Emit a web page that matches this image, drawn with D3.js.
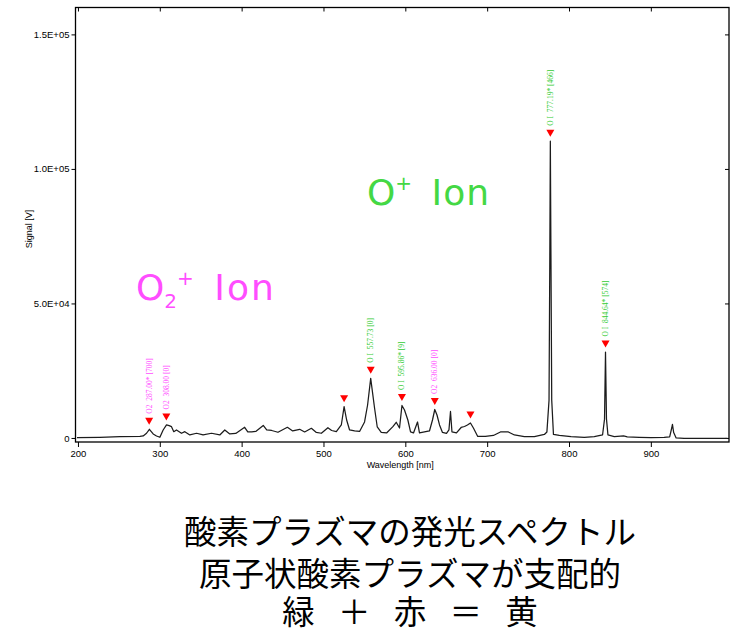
<!DOCTYPE html>
<html><head><meta charset="utf-8">
<script src="https://cdn.jsdelivr.net/npm/d3@7"></script>
<style>
html,body{margin:0;padding:0;background:#fff;}
svg{display:block;}
</style>
</head><body>
<svg id="chart" width="741" height="634"></svg>
<script>
// ---- data ----
const wavelengths = [198.8,226.8,251.3,275.7,279.7,283.8,287.3,291.9,296.0,300.1,304.1,308.2,311.4,314.3,317.1,320.4,326.5,330.6,336.7,344.9,352.9,363.2,373.3,379.4,385.5,392.8,403.7,407.5,412.3,417.2,426.4,430.6,436.7,444.4,455.9,462.4,470.9,477.0,485.2,491.3,497.4,505.4,510.0,515.7,521.8,525.2,528.3,531.9,538.0,544.1,550.2,553.9,557.7,562.4,565.7,570.6,577.1,584.8,588.9,592.9,595.9,599.0,603.1,606.4,610.0,614.9,617.3,623.4,629.5,633.2,636.0,638.7,641.8,645.4,650.3,653.3,655.2,657.0,662.5,668.2,672.3,675.9,679.6,683.2,688.5,697.9,707.6,716.2,725.9,733.3,745.5,757.7,769.9,773.0,775.6,776.6,777.2,777.9,778.9,781.0,788.2,802.5,818.7,830.9,841.0,843.4,844.6,845.8,847.6,855.3,866.7,871.2,885.8,900.1,916.3,923.0,925.5,926.4,927.9,930.9,940.6,993.6];
const signal = [110,260,480,560,740,1750,3230,1490,740,260,2970,4830,4570,4200,2340,2970,1750,2340,1110,1750,1110,1750,1110,2970,1490,1670,3970,2230,2230,2410,4640,2970,2780,2120,3970,2600,3230,2230,3600,2040,1750,3820,2780,2340,4830,11620,6680,2970,2600,2410,5940,12250,22170,11140,4080,2040,1850,4200,5830,3710,12070,10400,6680,2230,1860,5940,1860,2230,2600,6680,10580,8540,4830,2040,1670,2970,9840,2230,1860,3900,4270,4830,5570,3710,560,560,930,2230,2230,1110,480,480,1300,2230,14000,70000,110300,70000,14000,1300,930,480,260,480,1110,7000,31930,7000,1110,480,740,370,260,110,190,370,3700,5090,2000,0,-110,-110];

const xTicks = [200,300,400,500,600,700,800,900];
const yTicks = [0,50000,100000,150000];
const yTickLabels = ["0","5.0E+04","1.0E+05","1.5E+05"];

const markerWl  = [287.0,308.0,525.2,557.73,595.86,636.0,679.6,777.19,844.64];
const markerVal = [3230,4830,11620,22170,12070,10580,5570,110300,31930];
const markerLabels = ["O2  287.00* [700]","O2  308.00 [0]","","O I  557.73 [0]","O I  595.86* [9]","O2  636.00 [0]","","O I  777.19* [466]","O I  844.64* [574]"];
const markerKinds  = ["o2","o2","","oi","oi","o2","","oi","oi"];

const captionLines = ["酸素プラズマの発光スペクトル","原子状酸素プラズマが支配的","緑 ＋ 赤 ＝ 黄"];

// ---- layout ----
const green = "#44d844", magenta = "#ff4dff";
const svg = d3.select("#chart");
const L = 75.5, R = 729, T = 7.5, B = 442;
const x = d3.scaleLinear().domain([197, 995.5]).range([L, R]);
const y = d3.scaleLinear().domain([-1500, 160000]).range([B, T]);

const tickFont = "Liberation Sans, Arial, sans-serif";

// axes
const gx = svg.append("g").attr("transform",`translate(0,${B})`)
  .call(d3.axisBottom(x).tickValues(xTicks).tickSizeInner(5).tickSizeOuter(0).tickPadding(3));
const gy = svg.append("g").attr("transform",`translate(${L},0)`)
  .call(d3.axisLeft(y).tickValues(yTicks).tickFormat((d,i)=>yTickLabels[i]).tickSizeInner(4).tickSizeOuter(0).tickPadding(2));
const gxt = svg.append("g").attr("transform",`translate(0,${T})`)
  .call(d3.axisBottom(x).tickValues(xTicks).tickSizeInner(4).tickSizeOuter(0).tickFormat(""));
const gyr = svg.append("g").attr("transform",`translate(${R},0)`)
  .call(d3.axisLeft(y).tickValues(yTicks).tickSizeInner(4).tickSizeOuter(0).tickFormat(""));
[gx,gy,gxt,gyr].forEach(g=>{
  g.select(".domain").remove();
  g.selectAll(".tick line").attr("stroke","#000").attr("stroke-width",1);
  g.selectAll(".tick text").attr("fill","#000").style("font-family",tickFont).style("font-size","9.5px");
});

// frame
svg.append("rect").attr("x",L).attr("y",T).attr("width",R-L).attr("height",B-T)
  .attr("fill","none").attr("stroke","#000").attr("stroke-width",1.3);

// axis titles
svg.append("text").attr("x",(L+R)/2 - 2).attr("y",468).attr("text-anchor","middle")
  .style("font-family",tickFont).style("font-size","9px").text("Wavelength [nm]");
svg.append("text").attr("transform","translate(32,229) rotate(-90)").attr("text-anchor","middle")
  .style("font-family",tickFont).style("font-size","9px").text("Signal [V]");

// spectrum
const pts = wavelengths.map((w,i)=>[w,signal[i]]);
svg.append("path").datum(pts)
  .attr("fill","none").attr("stroke","#1c1c1c").attr("stroke-width",1.25).attr("stroke-linejoin","round")
  .attr("d", d3.line().x(d=>x(d[0])).y(d=>y(d[1])));

// markers
const mk = svg.append("g");
markerWl.forEach((w,i)=>{
  const cx = x(w), by = y(markerVal[i]) - 4.5;
  mk.append("path").attr("d",`M${cx-4},${by-7}L${cx+4},${by-7}L${cx},${by}Z`).attr("fill","#ff0000");
  if (markerLabels[i]) {
    mk.append("text").attr("transform",`translate(${cx+2.5},${by-11}) rotate(-90)`)
      .attr("text-anchor","start").attr("fill", markerKinds[i]==="oi" ? "#33cc33" : magenta)
      .style("font-family","Liberation Serif, Times New Roman, serif").style("font-size","7.5px")
      .style("white-space","pre").text(markerLabels[i]);
  }
});

// big ion labels
const big = "DejaVu Sans, Verdana, sans-serif";
const t1 = svg.append("text").attr("x",367).attr("y",205).attr("fill",green)
  .style("font-family",big).style("font-size","36px");
t1.append("tspan").text("O");
t1.append("tspan").attr("dy",-15).style("font-size","20px").text("+");
t1.append("tspan").attr("dy",15).attr("dx",7).style("letter-spacing","1px").text(" Ion");

const t2 = svg.append("text").attr("x",136).attr("y",300).attr("fill",magenta)
  .style("font-family",big).style("font-size","36px");
t2.append("tspan").text("O");
t2.append("tspan").attr("dy",8).style("font-size","20px").text("2");
t2.append("tspan").attr("dy",-23).style("font-size","20px").text("+");
t2.append("tspan").attr("dy",15).attr("dx",7).style("letter-spacing","2px").text(" Ion");

// caption
const capY = [544, 586, 624];
captionLines.forEach((s,i)=>{
  svg.append("text").attr("x",410).attr("y",capY[i]).attr("text-anchor","middle")
    .style("font-family","Noto Sans CJK JP, sans-serif").style("font-size","32.5px")
    .style("white-space","pre").style("word-spacing", i===2 ? "16px" : "0px")
    .attr("fill","#000").text(s);
});
</script>
</body></html>
